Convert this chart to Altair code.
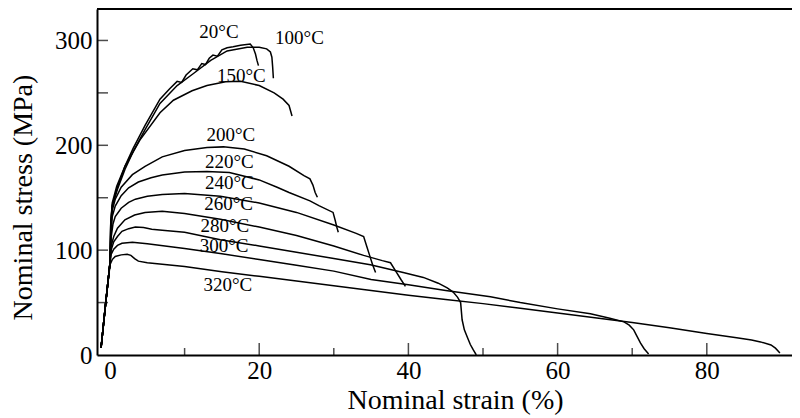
import altair as alt
import pandas as pd

# ---------------- data ----------------
x_min, x_max = -1.743, 91.42
y_min, y_max = 0, 330

x_tick_labels = [0, 20, 40, 60, 80]
y_tick_labels = [0, 100, 200, 300]
x_major_ticks = [20, 40, 60, 80]
x_minor_ticks = [10, 30, 50, 70]
y_ticks = [50, 100, 150, 200, 250, 300]

s20_x = [-1.2, -0.6, 0.0, 0.1, 0.3, 1, 2, 3.1, 4.7, 6.7, 8, 9, 9.6, 10.2, 11.1, 11.7, 12.3, 12.8, 13.3, 13.8, 14.4, 15, 15.7, 16.5, 17.5, 18.8, 19.2, 19.5, 19.7, 19.9]
s20_y = [6.7, 48, 88, 126, 143, 160, 180, 197, 219, 244, 254, 261, 260, 267, 273, 272, 278, 277, 283, 286, 285, 291, 293, 294, 295.5, 296.5, 293, 287, 281, 276]

s100_x = [-1.2, -0.6, 0.0, 0.1, 0.3, 1, 2, 3.1, 4.7, 6.7, 9, 11.1, 13.5, 15.7, 18.4, 20, 21, 21.5, 21.7, 21.8, 21.9]
s100_y = [6.7, 48, 88, 125, 142, 158, 177, 194, 215, 240, 257, 268, 281, 290, 293.5, 293.5, 292, 289, 284, 275, 264]

s150_x = [-1.2, -0.6, 0.0, 0.1, 0.3, 0.9, 2, 4, 6.7, 8.5, 11, 13, 15.5, 17.5, 20, 22, 23.2, 24, 24.2, 24.4]
s150_y = [6.7, 48, 88, 125, 145, 161, 180, 205, 231, 243, 252, 257, 260.5, 261, 257, 250, 244, 238, 233, 228]

s200_x = [-1.2, -0.6, 0.0, 0.12, 0.3, 0.7, 1.5, 3, 4.7, 7, 10, 13, 15.2, 18, 21, 24, 26, 26.8, 27.2, 27.5, 27.8]
s200_y = [6.7, 48, 88, 120, 138, 148.6, 160, 172, 180, 189, 195, 198, 198.5, 196.5, 190, 180, 171, 168, 162, 155, 150.5]

s220_x = [-1.2, -0.6, 0.0, 0.12, 0.3, 0.7, 1.5, 2.5, 3.8, 5.5, 7, 10, 13, 16, 20, 22.4, 24, 26.8, 28, 29.9, 30.2, 30.4, 30.6]
s220_y = [6.7, 48, 88, 115, 132, 142, 152, 159.5, 165, 169, 171.6, 174.5, 175, 174, 167, 160, 155, 147, 142.5, 136, 128, 122, 117]

s240_x = [-1.2, -0.6, 0.0, 0.15, 0.4, 0.7, 1.5, 2.5, 3.4, 5, 7, 10, 14.8, 20, 25, 30, 33, 34, 34.4, 34.8, 35.2, 35.6]
s240_y = [6.7, 48, 88, 112, 125, 132, 140, 145.5, 148.6, 151.5, 153, 154, 151.5, 145, 136, 124, 116, 113, 104, 95, 86, 78.6]

s260_x = [-1.2, -0.6, 0.0, 0.15, 0.5, 1.0, 2.0, 3.3, 4.7, 7, 10, 14.8, 20, 25, 30, 34, 36.5, 37.6, 38.3, 39.0, 39.6]
s260_y = [6.7, 48, 88, 104, 113, 121, 129, 133.5, 136, 137, 135, 129.5, 122, 114, 104, 95, 90, 88, 80, 72, 65.5]

s280_x = [-1.2, -0.6, 0.0, 0.15, 0.5, 1.0, 1.6, 2.5, 3.4, 4.5, 5.6, 7, 10, 14.8, 20, 25, 30, 34.9, 39.3, 42, 44, 45.2, 46, 46.6, 47.0, 47.2, 47.5, 47.9, 48.3, 48.7, 49.1]
s280_y = [6.7, 48, 88, 100, 108, 113, 118, 120.5, 122, 121.5, 120, 119, 117, 110, 104, 98, 92, 86, 78.6, 74, 68.5, 64, 60, 55, 50, 33.6, 24, 17, 10, 4.8, 0]

s300_x = [-1.2, -0.6, 0.0, 0.15, 0.5, 1.0, 1.6, 3.0, 5, 10, 15, 20, 25, 30, 35, 40, 45, 51, 55, 60, 64.4, 67, 68.9, 69.6, 70.2, 70.7, 71.1, 71.6, 72.2]
s300_y = [6.7, 48, 88, 96, 101, 104.5, 106.5, 107.5, 106, 101.5, 96.5, 91, 85.5, 80, 72, 67, 61.5, 55.6, 50, 44, 39.3, 35, 31.6, 28.5, 24, 17, 11.5, 6, 1]

s320_x = [-1.2, -0.6, 0.0, 0.3, 0.7, 1.5, 2.3, 2.8, 3.3, 3.8, 5, 7, 10, 15, 20, 25, 30, 35, 40, 45, 50, 55, 60, 65, 70, 75, 80, 84, 86, 87.2, 88.6, 89.2, 89.8]
s320_y = [6.7, 48, 86, 91, 94, 95.5, 96, 95, 92, 89.5, 88, 86.5, 84.5, 79.5, 75, 70.5, 66, 61.5, 57, 53, 49, 44.5, 40, 35.5, 31, 26, 20.5, 16.5, 14.4, 12.5, 9.6, 6.5, 2]

label_text = ["20°C", "100°C", "150°C", "200°C", "220°C", "240°C", "260°C", "280°C", "300°C", "320°C"]
label_x = [14.6, 25.4, 17.6, 16.2, 16.0, 16.0, 15.9, 15.4, 15.3, 15.8]
label_y = [308, 302, 266, 210, 183.6, 164, 143.8, 123, 104, 67]

series = [
    ("20°C", s20_x, s20_y), ("100°C", s100_x, s100_y), ("150°C", s150_x, s150_y),
    ("200°C", s200_x, s200_y), ("220°C", s220_x, s220_y), ("240°C", s240_x, s240_y),
    ("260°C", s260_x, s260_y), ("280°C", s280_x, s280_y), ("300°C", s300_x, s300_y),
    ("320°C", s320_x, s320_y),
]
rows = []
for name, xs, ys in series:
    for i, (a, b) in enumerate(zip(xs, ys)):
        rows.append({"series": name, "i": i, "strain": a, "stress": b})
df = pd.DataFrame(rows)
labels_df = pd.DataFrame({"t": label_text, "x": label_x, "y": label_y})

# ---------------- chart ----------------
FONT = "Liberation Serif"
xsc = alt.Scale(domain=[x_min, x_max], nice=False, zero=False)
ysc = alt.Scale(domain=[y_min, y_max], nice=False, zero=False)

x_axis = alt.Axis(values=x_tick_labels, title="Nominal strain (%)", grid=False, ticks=False,
                  tickSize=0, labelPadding=23, labelBaseline="alphabetic",
                  titleX=358, titleY=53, titleBaseline="alphabetic", titleAnchor="start",
                  titleAlign="center")
y_axis = alt.Axis(values=y_tick_labels, title="Nominal stress (MPa)", grid=False, ticks=False,
                  tickSize=0, labelPadding=5, titleX=-74, titleY=188, titleAngle=270,
                  titleAlign="center", titleBaseline="middle", titleAnchor="start")

lines = alt.Chart(df).mark_line(color="black", strokeWidth=1.5, clip=True).encode(
    x=alt.X("strain:Q", scale=xsc, axis=x_axis),
    y=alt.Y("stress:Q", scale=ysc, axis=y_axis),
    detail="series:N",
    order="i:Q",
)

texts = alt.Chart(labels_df).mark_text(font=FONT, fontSize=19, color="black",
                                       align="center", baseline="middle").encode(
    x=alt.X("x:Q", scale=xsc, axis=x_axis),
    y=alt.Y("y:Q", scale=ysc, axis=y_axis),
    text="t:N",
)

xmaj = alt.Chart(pd.DataFrame({"v": x_major_ticks})).mark_tick(
    orient="vertical", size=12, thickness=1.5, yOffset=-6, color="black").encode(
    x=alt.X("v:Q", scale=xsc, axis=x_axis),
    y=alt.Y(datum=0, scale=ysc, axis=y_axis),
)
xmin_t = alt.Chart(pd.DataFrame({"v": x_minor_ticks})).mark_tick(
    orient="vertical", size=7, thickness=1.5, yOffset=-3.5, color="black").encode(
    x=alt.X("v:Q", scale=xsc, axis=x_axis),
    y=alt.Y(datum=0, scale=ysc, axis=y_axis),
)
yt = alt.Chart(pd.DataFrame({"v": y_ticks})).mark_tick(
    orient="horizontal", size=11, thickness=1.5, xOffset=5.5, color="black").encode(
    y=alt.Y("v:Q", scale=ysc, axis=y_axis),
    x=alt.X(datum=x_min, scale=xsc, axis=x_axis),
)
top = alt.Chart(pd.DataFrame({"v": [0]})).mark_rule(color="black", strokeWidth=2).encode(
    x=alt.X(datum=x_min, scale=xsc, axis=x_axis),
    x2=alt.X2(datum=x_max),
    y=alt.Y(datum=y_max, scale=ysc, axis=y_axis),
)

chart = alt.layer(lines, texts, xmaj, xmin_t, yt, top).properties(
    width=695, height=346,
    autosize=alt.AutoSizeParams(type="none"),
    padding={"left": 89, "top": 1, "right": 0, "bottom": 60},
    background="white",
).configure_view(stroke=None).configure_axis(
    domainColor="black", domainWidth=2, labelColor="black", labelFont=FONT,
    labelFontSize=25, titleFont=FONT, titleFontSize=28, titleFontWeight="normal",
    titleColor="black",
)

chart.save("out.html", embed_options={"renderer": "svg", "actions": False})
